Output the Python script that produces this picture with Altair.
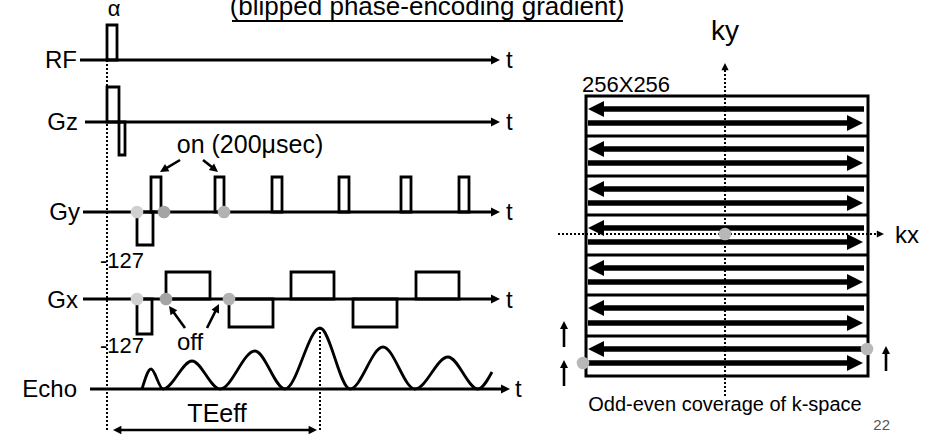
import math
import altair as alt
import pandas as pd

W, H = 941, 436
FONT = "Liberation Sans"

# ---------------- pulse-sequence diagram (diagram pixel units) ----------------
row_names = ["RF", "Gz", "Gy", "Gx", "Echo"]
row_base_y = [60, 122, 212, 299, 389]
row_line_x0 = [80, 85, 83, 83, 90]
row_line_x1 = [500, 500, 500, 500, 510]
row_label_x = [77, 78, 80, 78, 77]
row_label_base = [68, 130, 220, 308, 397]
t_label_x = [506, 506, 506, 506, 515]

# pulses: start, end, level (baseline taken from the row)
rf_pulse = [107, 117, 25]
gz_pulses = [[107, 119, 87], [119, 125, 155]]
gy_prephase = [137, 153, 245]
gy_blip_x0 = [151, 215, 272, 339, 401, 459]
gy_blip_x1 = [161, 224, 282, 349, 411, 469]
gy_blip_top = 177
gx_prephase = [137, 152, 334]
gx_lobe_x0 = [166, 229, 291, 353, 416]
gx_lobe_x1 = [210, 273, 334, 397, 459]
gx_lobe_level = [272, 327, 272, 327, 272]

echo_x = [142, 151, 163, 192, 220, 255, 285, 320, 350, 383, 415, 448, 478, 492]
echo_y = [389, 369, 389, 361, 389, 351, 389, 328, 389, 347, 389, 357, 389, 372]

dot_x = [137, 164, 224, 137, 166, 229, 725, 867, 583]
dot_y = [212, 212, 212, 299, 299, 299, 234, 349, 363]
dot_c = ["#d0d0d0", "#a4a4a4", "#b2b2b2", "#d0d0d0", "#a4a4a4", "#b2b2b2",
         "#b8b8b8", "#b8b8b8", "#b8b8b8"]

# ---------------- k-space ----------------
ks_x0, ks_x1, ks_y0, ks_y1 = 586, 868, 96, 376
ks_separators = [136, 176, 215, 255, 295, 336]
ks_left_arrow_y = [109, 149, 189, 228, 268, 308, 349]
ks_right_arrow_y = [123, 163, 203, 242, 282, 323, 363]
ks_arrow_xa, ks_arrow_xb = 588, 864

texts = [
    # text, x, baseline y, font size, align, colour
    ("(blipped phase-encoding gradient)", 427, 15, 26, "center", "black"),
    ("α", 114, 16, 22, "center", "black"),
    ("on (200μsec)", 250, 153, 25, "center", "black"),
    ("-127", 100, 268, 22, "left", "black"),
    ("-127", 100, 353, 22, "left", "black"),
    ("off", 190, 350, 24, "center", "black"),
    ("TEeff", 217, 422, 25, "center", "black"),
    ("ky", 725, 40, 28, "center", "black"),
    ("256X256", 582, 92, 22, "left", "black"),
    ("kx", 895, 243, 24, "left", "black"),
    ("Odd-even coverage of k-space", 725, 411, 20, "center", "black"),
    ("22", 890, 430, 15, "right", "#555555"),
]
for i, n in enumerate(row_names):
    texts.append((n, row_label_x[i], row_label_base[i], 24, "right", "black"))
    texts.append(("t", t_label_x[i], row_label_base[i], 24, "left", "black"))

# ---------------- build tables ----------------
rects = []
rects.append(dict(x=rf_pulse[0], x2=rf_pulse[1], y=row_base_y[0], y2=rf_pulse[2]))
for p in gz_pulses:
    rects.append(dict(x=p[0], x2=p[1], y=row_base_y[1], y2=p[2]))
rects.append(dict(x=gy_prephase[0], x2=gy_prephase[1], y=row_base_y[2], y2=gy_prephase[2]))
for a, b in zip(gy_blip_x0, gy_blip_x1):
    rects.append(dict(x=a, x2=b, y=row_base_y[2], y2=gy_blip_top))
rects.append(dict(x=gx_prephase[0], x2=gx_prephase[1], y=row_base_y[3], y2=gx_prephase[2]))
for a, b, l in zip(gx_lobe_x0, gx_lobe_x1, gx_lobe_level):
    rects.append(dict(x=a, x2=b, y=row_base_y[3], y2=l))
rects_df = pd.DataFrame(rects)

ks_box_df = pd.DataFrame([dict(x=ks_x0, x2=ks_x1, y=ks_y0, y2=ks_y1)])

rules = []
heads = []


def arrow(tail, tip, s, w):
    dx, dy = tip[0] - tail[0], tip[1] - tail[1]
    L = math.hypot(dx, dy)
    ux, uy = dx / L, dy / L
    back = 2 * s * 0.6
    rules.append(dict(x=tail[0], y=tail[1], x2=tip[0] - ux * back, y2=tip[1] - uy * back, w=w))
    ang = math.degrees(math.atan2(dy, dx)) % 360
    heads.append(dict(x=tip[0], y=tip[1], angle=ang, size=4 * s * s))


for i in range(5):
    arrow((row_line_x0[i], row_base_y[i]), (row_line_x1[i], row_base_y[i]), 4.5, 3)
arrow((180, 160), (160, 172), 4.2, 2.6)
arrow((203, 160), (218, 172), 4.2, 2.6)
arrow((185, 328), (169, 306), 4.2, 2.6)
arrow((207, 328), (219, 304), 4.2, 2.6)
arrow((215, 430), (113, 430), 4.2, 2.6)
arrow((215, 430), (317, 430), 4.2, 2.6)
for y in ks_left_arrow_y:
    arrow((ks_arrow_xb, y), (ks_arrow_xa, y), 8, 5.5)
for y in ks_right_arrow_y:
    arrow((ks_arrow_xa, y), (ks_arrow_xb - 1, y), 8, 5.5)
arrow((564, 347), (564, 321), 4, 2.6)
arrow((564, 386), (564, 360), 4, 2.6)
arrow((886, 371), (886, 346), 4, 2.6)
# title underline and k-space separators
rules.append(dict(x=232, y=21, x2=623, y2=21, w=2))
for y in ks_separators:
    rules.append(dict(x=ks_x0, y=y, x2=ks_x1, y2=y, w=3))
rules_df = pd.DataFrame(rules)

# dotted guides (ky / kx axes have small heads)
dotted_df = pd.DataFrame([
    dict(x=107, y=60, x2=107, y2=430),
    dict(x=320, y=328, x2=320, y2=430),
    dict(x=725, y=70, x2=725, y2=397),
    dict(x=558, y=234, x2=878, y2=234),
])
heads.append(dict(x=725, y=63, angle=270, size=4 * 3.6 ** 2))
heads.append(dict(x=884, y=234, angle=0, size=4 * 3.6 ** 2))
heads_df = pd.DataFrame(heads)

echo_df = pd.DataFrame(dict(x=echo_x, y=echo_y))
dots_df = pd.DataFrame(dict(x=dot_x, y=dot_y, c=dot_c))
text_df = pd.DataFrame(texts, columns=["text", "x", "y", "fs", "align", "c"])

XS = alt.Scale(domain=[0, W], nice=False, zero=False)
YS = alt.Scale(domain=[0, H], reverse=True, nice=False, zero=False)
X = alt.X("x:Q", scale=XS, axis=None)
Y = alt.Y("y:Q", scale=YS, axis=None)

dotted = alt.Chart(dotted_df).mark_rule(color="black", strokeWidth=2, strokeDash=[2, 2]).encode(
    x=X, y=Y, x2="x2:Q", y2="y2:Q")
rule_layer = alt.Chart(rules_df).mark_rule(color="black").encode(
    x=X, y=Y, x2="x2:Q", y2="y2:Q", strokeWidth=alt.StrokeWidth("w:Q", scale=None))
head_layer = alt.Chart(heads_df).mark_point(
    shape="M0,0L-2,-1L-2,1Z", filled=True, color="black", opacity=1, strokeWidth=0).encode(
    x=X, y=Y, angle=alt.Angle("angle:Q", scale=None), size=alt.Size("size:Q", scale=None))
rect_layer = alt.Chart(rects_df).mark_rect(fillOpacity=0, stroke="black", strokeWidth=2.8).encode(
    x=X, y=Y, x2="x2:Q", y2="y2:Q")
box_layer = alt.Chart(ks_box_df).mark_rect(fillOpacity=0, stroke="black", strokeWidth=3).encode(
    x=X, y=Y, x2="x2:Q", y2="y2:Q")
echo_layer = alt.Chart(echo_df).mark_line(color="black", strokeWidth=2.8, interpolate="monotone").encode(
    x=X, y=Y)
dot_layer = alt.Chart(dots_df).mark_circle(size=160, opacity=1).encode(
    x=X, y=Y, color=alt.Color("c:N", scale=None))


def text_layer(align):
    return alt.Chart(text_df).transform_filter(alt.datum.align == align).mark_text(
        align=align, baseline="alphabetic", font=FONT).encode(
        x=X, y=Y, text="text:N", size=alt.Size("fs:Q", scale=None),
        color=alt.Color("c:N", scale=None))


chart = alt.layer(
    dotted, box_layer, rule_layer, rect_layer, echo_layer, head_layer, dot_layer,
    text_layer("left"), text_layer("center"), text_layer("right"),
).properties(
    width=W, height=H, padding=0, autosize=alt.AutoSizeParams(type="none"), background="white"
).configure_view(stroke=None)

chart.save("out.html", embed_options={"renderer": "svg", "actions": False})
